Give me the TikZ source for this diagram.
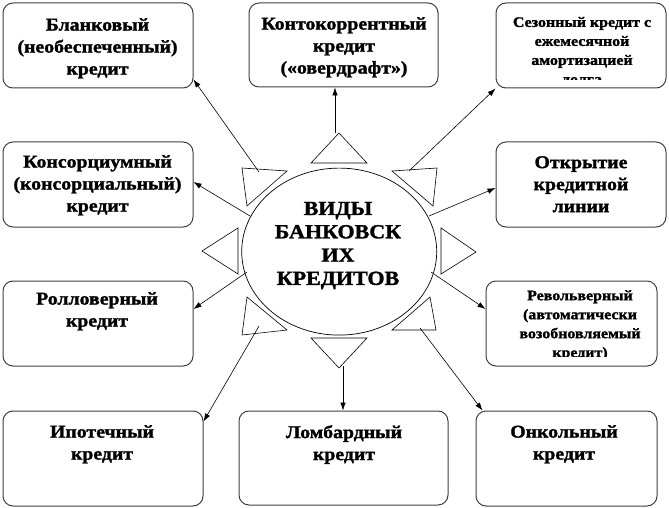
\documentclass[tikz,border=0pt]{standalone}
\usepackage{fontspec}
\setmainfont{Liberation Serif}[FakeStretch=1.1, BoldFeatures={FakeBold=1.5}]
\usetikzlibrary{arrows.meta,shapes.geometric}
\begin{document}
\begin{tikzpicture}[x=1pt,y=-1pt,
  box/.style={draw=black!75, line width=1pt, rounded corners=10pt, rectangle, inner sep=0pt},
  lbl/.style={anchor=north, align=center, inner sep=0pt, font=\bfseries\fontsize{18}{22}\selectfont},
  slbl/.style={anchor=north, align=center, inner sep=0pt, font=\bfseries\fontsize{14.5}{19}\selectfont},
  clbl/.style={anchor=north, align=center, inner sep=0pt, font=\bfseries\fontsize{20}{23.3}\selectfont},
  tri/.style={draw, line width=0.6pt, fill=white},
  arr/.style={-{Latex[length=8pt,width=5.5pt]}, line width=0.6pt}]
\useasboundingbox (0,0) rectangle (669,508);
\fill[white] (0,0) rectangle (669,508);

% boxes
\node[box, minimum width=190pt, minimum height=85pt] (b1) at (98,45.5) {};
\node[box, minimum width=189pt, minimum height=84pt] (b2) at (343.5,45) {};
\node[box, minimum width=170pt, minimum height=85pt] (b3) at (581,45.5) {};
\node[box, minimum width=190pt, minimum height=85pt] (b4) at (98,184.5) {};
\node[box, minimum width=170pt, minimum height=85pt] (b5) at (581,184.5) {};
\node[box, minimum width=190pt, minimum height=85pt] (b6) at (98,323.5) {};
\node[box, minimum width=171pt, minimum height=85pt] (b7) at (571.5,323.5) {};
\node[box, minimum width=200pt, minimum height=95pt] (b8) at (103,458.5) {};
\node[box, minimum width=209pt, minimum height=94pt] (b9) at (343.5,458) {};
\node[box, minimum width=181pt, minimum height=95pt] (b10) at (566.5,458.5) {};

% texts
\node[lbl] (t1) at (97.5,18) {Бланковый\\(необеспеченный)\\кредит};
\node[lbl] (t2) at (344,17) {Контокоррентный\\кредит\\(«овердрафт»)};
\begin{scope}
\clip (496,3) rectangle (666,79.3);
\node[slbl] (t3) at (582,16.7) {Сезонный кредит с\\ежемесячной\\амортизацией\\долга};
\end{scope}
\node[lbl] (t4) at (97.5,155) {Консорциумный\\(консорциальный)\\кредит};
\node[lbl] (t5) at (581,156) {Открытие\\кредитной\\линии};
\node[lbl] (t6) at (97,292) {Ролловерный\\кредит};
\begin{scope}
\clip (486,281) rectangle (657,356.8);
\node[slbl] (t7) at (580,290) {Револьверный\\(автоматически\\возобновляемый\\кредит)};
\end{scope}
\node[lbl] (t8) at (102,425) {Ипотечный\\кредит};
\node[lbl] (t9) at (344,425) {Ломбардный\\кредит};
\node[lbl] (t10) at (564,425) {Онкольный\\кредит};

% centre ellipse
\node[draw, ellipse, line width=0.7pt, minimum width=195pt, minimum height=167pt, inner sep=0pt] (c) at (339.2,251.6) {};
\node[clbl] (ct) at (338,201.7) {ВИДЫ\\БАНКОВСК\\ИХ\\КРЕДИТОВ};

% triangles
\draw[tri] (339,133) -- (311,163) -- (367,163) -- cycle;
\draw[tri] (311,338) -- (367,338) -- (339,368) -- cycle;
\draw[tri] (202,251) -- (238,228) -- (238,274) -- cycle;
\draw[tri] (476,252) -- (441,228) -- (441,274) -- cycle;
\draw[tri] (242,168) -- (287,171) -- (247,206) -- cycle;
\draw[tri] (392,171) -- (437,168) -- (433,206) -- cycle;
\draw[tri] (247,297) -- (242,335) -- (287,330) -- cycle;
\draw[tri] (430,297) -- (436,330) -- (392,330) -- cycle;

% arrow starts
\coordinate (s1) at (259,172);
\coordinate (s2) at (335,133);
\coordinate (s3) at (409,171);
\coordinate (s4) at (250,216);
\coordinate (s5) at (429,216);
\coordinate (s6) at (247,272);
\coordinate (s7) at (431,272);
\coordinate (s8) at (259,326);
\coordinate (s9) at (343,366);
\coordinate (s10) at (420,328);

% arrows
\draw[arr] (s1) -- ([yshift=9pt]b1.south east);
\draw[arr] (s2) -- ([xshift=-8.5pt]b2.south);
\draw[arr] (s3) -- (b3.south west);
\draw[arr] (s4) -- ([yshift=2.5pt]b4.east);
\draw[arr] (s5) -- ([yshift=-3.5pt]b5.west);
\draw[arr] (s6) -- ([yshift=14.5pt]b6.east);
\draw[arr] (s7) -- ([yshift=14.5pt]b7.west);
\draw[arr] (s8) -- ([yshift=-11pt]b8.north east);
\draw[arr] (s9) -- ([xshift=-0.5pt]b9.north);
\draw[arr] (s10) -- ([xshift=7pt]b10.north west);
\end{tikzpicture}
\end{document}
